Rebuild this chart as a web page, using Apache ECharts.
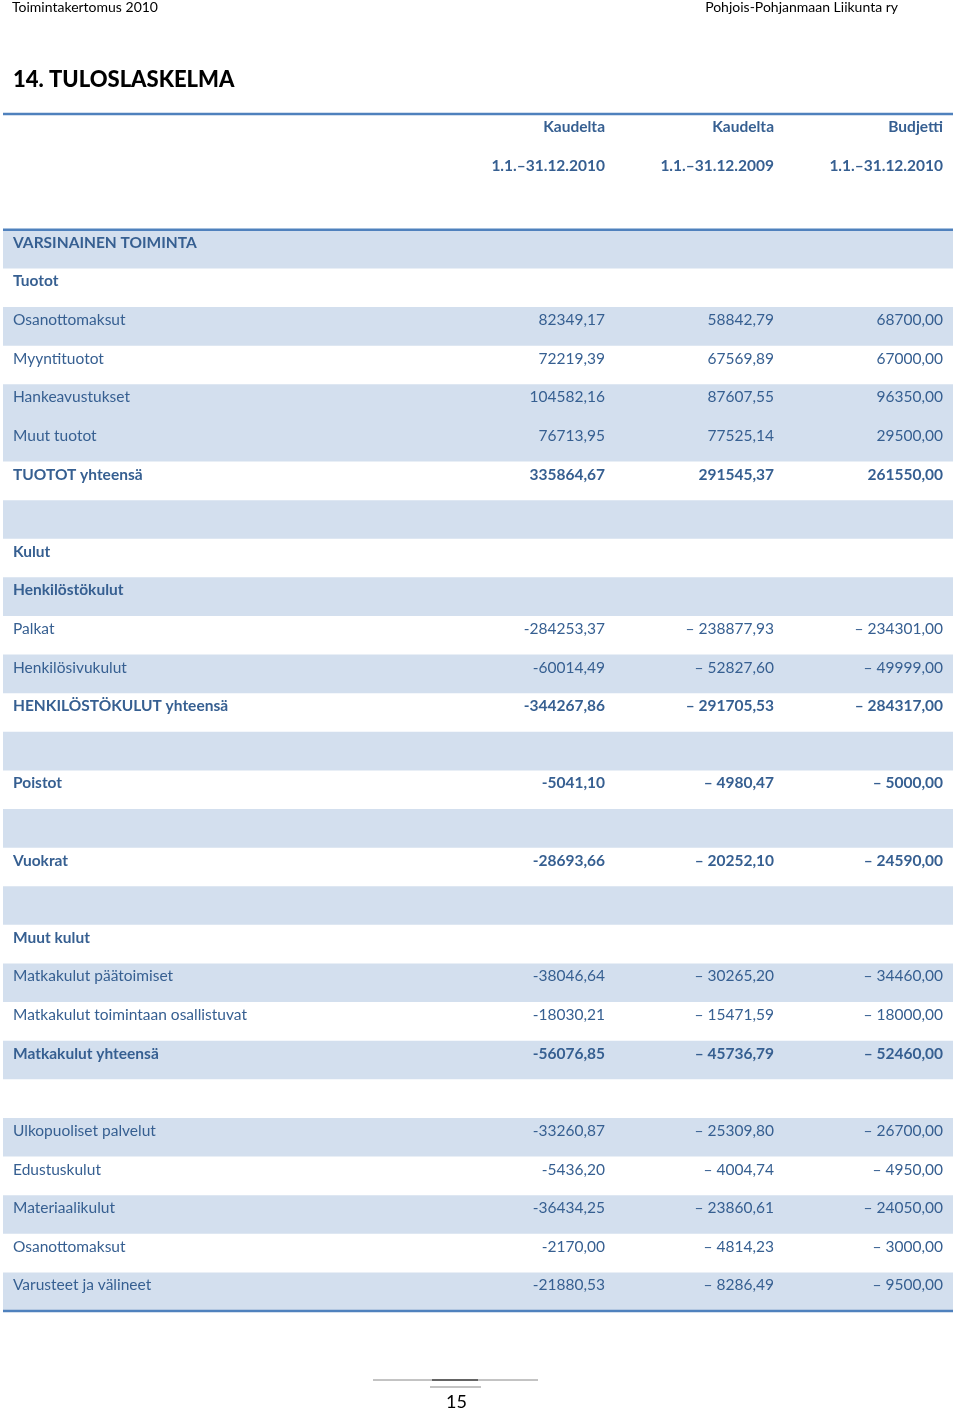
<!DOCTYPE html>
<html><head><meta charset="utf-8">
<script src="https://cdn.jsdelivr.net/npm/echarts@6/dist/echarts.min.js"></script>
<style>html,body{margin:0;padding:0;background:#fff}#c{width:960px;height:1410px}</style>
</head><body><div id="c"></div>
<script>
// ---- data ----
const headerLine1 = ['Kaudelta', 'Kaudelta', 'Budjetti'];
const headerLine2 = ['1.1.–31.12.2010', '1.1.–31.12.2009', '1.1.–31.12.2010'];
const rowLabels = ['VARSINAINEN TOIMINTA', 'Tuotot', 'Osanottomaksut', 'Myyntituotot', 'Hankeavustukset', 'Muut tuotot', 'TUOTOT yhteensä', '', 'Kulut', 'Henkilöstökulut', 'Palkat', 'Henkilösivukulut', 'HENKILÖSTÖKULUT yhteensä', '', 'Poistot', '', 'Vuokrat', '', 'Muut kulut', 'Matkakulut päätoimiset', 'Matkakulut toimintaan osallistuvat', 'Matkakulut yhteensä', '', 'Ulkopuoliset palvelut', 'Edustuskulut', 'Materiaalikulut', 'Osanottomaksut', 'Varusteet ja välineet'];
const period2010 = [null, null, 82349.17, 72219.39, 104582.16, 76713.95, 335864.67, null, null, null, -284253.37, -60014.49, -344267.86, null, -5041.10, null, -28693.66, null, null, -38046.64, -18030.21, -56076.85, null, -33260.87, -5436.20, -36434.25, -2170.00, -21880.53];
const period2009 = [null, null, 58842.79, 67569.89, 87607.55, 77525.14, 291545.37, null, null, null, -238877.93, -52827.60, -291705.53, null, -4980.47, null, -20252.10, null, null, -30265.20, -15471.59, -45736.79, null, -25309.80, -4004.74, -23860.61, -4814.23, -8286.49];
const budget2010 = [null, null, 68700, 67000, 96350, 29500, 261550, null, null, null, -234301, -49999, -284317, null, -5000, null, -24590, null, null, -34460, -18000, -52460, null, -26700, -4950, -24050, -3000, -9500];
const boldRows = [1, 1, 0, 0, 0, 0, 1, 0, 1, 1, 0, 0, 1, 0, 1, 0, 1, 0, 1, 0, 0, 1, 0, 0, 0, 0, 0, 0];
const shadedRows = [1, 0, 1, 0, 1, 1, 0, 1, 0, 1, 0, 1, 0, 1, 0, 1, 0, 1, 0, 1, 0, 1, 0, 1, 0, 1, 0, 1];

// ---- layout / style ----
const HEADER_ROWS = 3;
const TABLE_W = 950;
const colAnchor = [10, 602, 771, 940];
const colAlign = ['left', 'right', 'right', 'right'];
const TEXT_COLOR = '#365f91';
const SHADE = '#d3dfee';
const RULE = '#4f81bd';
const FONT = 'Lato, "Open Sans", sans-serif';
const FONT_SIZE = 15.5;
const TEXT_OFFSET = 13;

function fmt(v, col) {
  if (v === null || v === undefined) return '';
  const s = Math.abs(v).toFixed(2).replace('.', ',');
  if (v >= 0) return s;
  return col === 0 ? '-' + s : '\u2013 ' + s;
}

const totalRows = HEADER_ROWS + rowLabels.length;
const yCats = [];
for (let i = 0; i < totalRows; i++) yCats.push(String(i));

// cells: [col, row, text, bold]
const cells = [];
headerLine1.forEach((t, i) => cells.push([i + 1, 0, t, 1]));
headerLine2.forEach((t, i) => cells.push([i + 1, 1, t, 1]));
rowLabels.forEach((lab, r) => {
  const row = r + HEADER_ROWS;
  const b = boldRows[r];
  if (lab) cells.push([0, row, lab, b]);
  [period2010, period2009, budget2010].forEach((arr, c) => {
    const t = fmt(arr[r], c);
    if (t) cells.push([c + 1, row, t, b]);
  });
});

const bands = [];
shadedRows.forEach((s, r) => { if (s) bands.push([r + HEADER_ROWS]); });
// rules: [row, side] side -1 = top edge, 1 = bottom edge
const rules = [[0, -1], [HEADER_ROWS, -1], [totalRows - 1, 1]];

const chart = echarts.init(document.getElementById('c'), null, { renderer: 'canvas' });
chart.setOption({
  backgroundColor: '#fff',
  animation: false,
  title: [
    { text: 'Toimintakertomus 2010', left: 12, top: 0, padding: 0, textStyle: { fontFamily: FONT, fontSize: 14, fontWeight: 'normal', color: '#000' } },
    { text: 'Pohjois-Pohjanmaan Liikunta ry', right: 62, top: 0, padding: 0, textStyle: { fontFamily: FONT, fontSize: 14, fontWeight: 'normal', color: '#000' } },
    { text: '14. TULOSLASKELMA', left: 13, top: 69, padding: 0, textStyle: { fontFamily: FONT, fontSize: 22, fontWeight: 900, color: '#000' } },
    { text: '15', left: 446, top: 1393, padding: 0, textStyle: { fontFamily: FONT, fontSize: 18, fontWeight: 'normal', color: '#000' } }
  ],
  graphic: [
    { type: 'line', shape: { x1: 373, y1: 1380, x2: 538, y2: 1380 }, style: { stroke: '#888', lineWidth: 1 } },
    { type: 'line', shape: { x1: 432, y1: 1380, x2: 478, y2: 1380 }, style: { stroke: '#444', lineWidth: 1.5 } },
    { type: 'line', shape: { x1: 430, y1: 1387, x2: 481, y2: 1387 }, style: { stroke: '#888', lineWidth: 1 } }
  ],
  grid: { left: 3, top: 114, width: TABLE_W, height: 1197, containLabel: false },
  xAxis: { type: 'value', min: 0, max: TABLE_W, show: false },
  yAxis: { type: 'category', data: yCats, inverse: true, show: false },
  series: [
    {
      type: 'custom', name: 'bands', data: bands, silent: true, z: 1,
      renderItem: function (params, api) {
        const row = api.value(0);
        const p0 = api.coord([0, row]);
        const p1 = api.coord([TABLE_W, row]);
        const h = api.size([0, 1])[1];
        return { type: 'rect', shape: { x: p0[0], y: p0[1] - h / 2, width: p1[0] - p0[0], height: h }, style: { fill: SHADE } };
      }
    },
    {
      type: 'custom', name: 'rules', data: rules, silent: true, z: 3,
      renderItem: function (params, api) {
        const row = api.value(0), side = api.value(1);
        const p0 = api.coord([0, row]);
        const p1 = api.coord([TABLE_W, row]);
        const h = api.size([0, 1])[1];
        const y = p0[1] + side * h / 2;
        return { type: 'line', shape: { x1: p0[0], y1: y, x2: p1[0], y2: y }, style: { stroke: RULE, lineWidth: 2.5 } };
      }
    },
    {
      type: 'custom', name: 'cells', data: cells, silent: true, z: 4,
      encode: { x: 0, y: 1 },
      renderItem: function (params, api) {
        const item = cells[params.dataIndex];
        const col = item[0], row = item[1];
        const p = api.coord([colAnchor[col], row]);
        const h = api.size([0, 1])[1];
        return {
          type: 'text',
          style: {
            x: p[0], y: p[1] - h / 2 + TEXT_OFFSET,
            text: item[2], fill: TEXT_COLOR,
            font: (item[3] ? 'bold ' : '') + FONT_SIZE + 'px ' + FONT,
            align: colAlign[col], verticalAlign: 'middle'
          }
        };
      }
    }
  ]
});
</script></body></html>
